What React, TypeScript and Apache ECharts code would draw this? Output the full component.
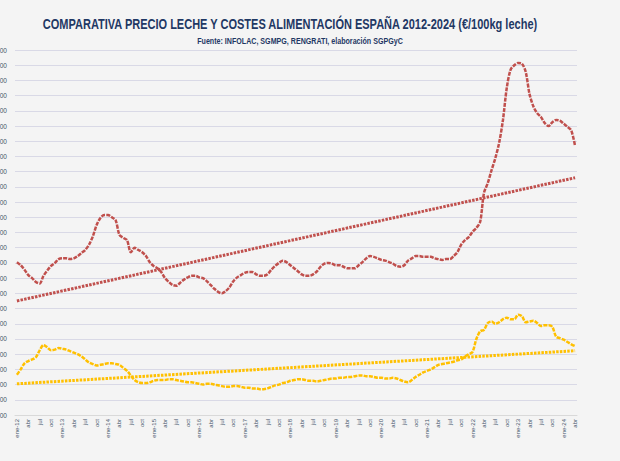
import React, { useEffect, useRef } from "react";
import * as echarts from "echarts";

const MONTHS = ["ene", "feb", "mar", "abr", "may", "jun", "jul", "ago", "sep", "oct", "nov", "dic"];
const YEARS = [12, 13, 14, 15, 16, 17, 18, 19, 20, 21, 22, 23, 24];
const categories: string[] = [];
YEARS.forEach((y) => MONTHS.forEach((m) => categories.push(`${m}-${y}`)));
categories.length = 148; // ene-12 .. abr-24

const precioLeche = [
  32.1, 31.7, 31.1, 30.4, 30.0, 29.5, 29.3, 30.3, 31.0, 31.6, 32.0, 32.5,
  32.6, 32.6, 32.5, 32.6, 32.9, 33.3, 33.7, 34.4, 35.5, 37.0, 37.9, 38.3,
  38.3, 38.0, 37.6, 35.7, 35.3, 35.0, 33.4, 34.0, 33.7, 33.4, 32.9, 32.1,
  31.6, 31.3, 30.8, 30.0, 29.5, 29.1, 29.0, 29.4, 29.8, 30.1, 30.3, 30.3,
  30.1, 30.0, 29.6, 29.1, 28.6, 28.2, 28.0, 28.3, 28.8, 29.6, 30.1, 30.4,
  30.7, 30.8, 30.8, 30.5, 30.3, 30.3, 30.5, 31.1, 31.6, 32.0, 32.3, 32.1,
  31.7, 31.3, 30.9, 30.5, 30.3, 30.3, 30.5, 30.9, 31.5, 31.9, 32.0, 31.9,
  31.7, 31.7, 31.5, 31.3, 31.3, 31.3, 31.7, 32.1, 32.6, 32.9, 32.8, 32.6,
  32.4, 32.3, 32.1, 31.9, 31.6, 31.5, 31.7, 32.3, 32.6, 32.9, 32.9, 32.8,
  32.8, 32.8, 32.6, 32.5, 32.4, 32.5, 32.5, 32.9, 33.4, 34.4, 35.0, 35.4,
  36.1, 36.6, 37.4, 41.2, 42.5, 44.2, 45.8, 47.8, 50.8, 55.0, 57.4, 58.0,
  58.3, 58.2, 57.1, 54.2, 52.6, 51.7, 51.2, 50.4, 50.0, 50.5, 50.8, 50.7,
  50.3, 49.9, 49.4, 47.38,
];

const costeAlimentacion = [
  17.3, 18.0, 18.8, 19.1, 19.3, 19.6, 20.5, 21.2, 20.9, 20.5, 20.6, 20.8,
  20.7, 20.6, 20.4, 20.2, 20.0, 19.7, 19.3, 18.9, 18.7, 18.5, 18.6, 18.7,
  18.8, 18.8, 18.7, 18.6, 18.2, 17.8, 17.2, 16.6, 16.3, 16.2, 16.2, 16.3,
  16.5, 16.6, 16.6, 16.6, 16.7, 16.7, 16.6, 16.5, 16.4, 16.3, 16.3, 16.2,
  16.1, 16.0, 16.1, 16.1, 16.0, 15.9, 15.8, 15.7, 15.7, 15.8, 15.8, 15.7,
  15.6, 15.6, 15.5, 15.5, 15.4, 15.4, 15.5, 15.7, 15.9, 16.0, 16.2, 16.3,
  16.5, 16.6, 16.7, 16.7, 16.6, 16.5, 16.5, 16.4, 16.5, 16.6, 16.7, 16.8,
  16.8, 16.9, 16.9, 17.0, 17.0, 17.1, 17.2, 17.2, 17.1, 17.1, 17.0, 16.9,
  16.9, 16.8, 16.8, 16.9, 16.8, 16.6, 16.4, 16.3, 16.6, 17.0, 17.3, 17.6,
  17.8, 18.0, 18.3, 18.6, 18.7, 18.8, 18.9, 19.0, 19.2, 19.3, 19.7, 20.0,
  20.3, 22.0, 23.0, 23.2, 24.1, 24.3, 24.0, 24.2, 24.6, 24.8, 24.6, 24.6,
  25.2, 25.0, 24.2, 24.3, 24.4, 24.1, 23.7, 23.8, 23.8, 23.6, 22.3, 22.1,
  21.9, 21.6, 21.3, 21.05,
];

const tendenciaLeche = [27.0, 43.2];
const tendenciaAlimentacion = [16.1, 20.45];

const TITLE = "COMPARATIVA PRECIO LECHE Y COSTES ALIMENTACIÓN ESPAÑA 2012-2024 (€/100kg leche)";
const SUBTITLE = "Fuente: INFOLAC, SGMPG, RENGRATI, elaboración SGPGyC";

const RED = "#C0504D";
const YELLOW = "#FFC000";
const NAVY = "#1F3864";
const FONT = "Liberation Sans, Arial, sans-serif";
const fmt = (v: number) => v.toFixed(2).replace(".", ",");

function lastLabeled(values: number[], bg: string, dist: number) {
  return values.map((v, i) =>
    i === values.length - 1
      ? {
          value: v,
          label: {
            show: true,
            position: "bottom",
            distance: dist,
            formatter: () => fmt(v),
            backgroundColor: bg,
            color: "#ffffff",
            fontWeight: "bold",
            fontSize: 9,
            fontFamily: FONT,
            padding: [3, 2, 2, 2],
          },
        }
      : v
  );
}

export default function App() {
  const ref = useRef<HTMLDivElement>(null);
  useEffect(() => {
    if (!ref.current) return;
    const chart = echarts.init(ref.current, undefined, { renderer: "svg" });
    const last = categories.length - 1;
    chart.setOption({
      animation: false,
      backgroundColor: "#f4f4f4",
      graphic: [
        {
          type: "text",
          x: 290,
          y: 25,
          scaleX: 0.787,
          style: {
            text: TITLE,
            font: `bold 14px ${FONT}`,
            fill: NAVY,
            align: "center",
            verticalAlign: "middle",
          },
        },
        {
          type: "text",
          x: 300,
          y: 41,
          scaleX: 0.75,
          style: {
            text: SUBTITLE,
            font: `bold 9.5px ${FONT}`,
            fill: NAVY,
            align: "center",
            verticalAlign: "middle",
          },
        },
      ],
      grid: {
        left: 15,
        right: 43,
        top: 50,
        bottom: 46,
        containLabel: false,
        outerBoundsMode: "none",
      },
      xAxis: {
        type: "category",
        data: categories,
        boundaryGap: true,
        axisLine: { lineStyle: { color: "#D9D9D9" } },
        axisTick: { show: false },
        axisLabel: {
          interval: 2,
          rotate: 90,
          margin: 4,
          fontSize: 6,
          color: "#44546A",
          fontFamily: FONT,
          formatter: (v: string) => (v.startsWith("ene") ? v : v.slice(0, 3)),
        },
      },
      yAxis: {
        type: "value",
        min: 12,
        max: 60,
        interval: 2,
        axisLine: { show: false },
        axisTick: { show: false },
        splitLine: { lineStyle: { color: "#D9D9E6", width: 1 } },
        axisLabel: {
          margin: 8,
          fontSize: 6.5,
          color: "#44546A",
          fontFamily: FONT,
          formatter: (v: number) => fmt(v),
        },
      },
      series: [
        {
          name: "Precio leche",
          type: "line",
          data: lastLabeled(precioLeche, RED, 4),
          smooth: 0.3,
          symbol: "none",
          lineStyle: { color: RED, width: 2.5, type: [4, 1.2] },
          z: 3,
        },
        {
          name: "Coste alimentación",
          type: "line",
          data: lastLabeled(costeAlimentacion, YELLOW, 17),
          smooth: 0.3,
          symbol: "none",
          lineStyle: { color: YELLOW, width: 2.5, type: [4, 1.2] },
          z: 3,
        },
        {
          name: "Tendencia leche",
          type: "line",
          data: [
            [categories[0], tendenciaLeche[0]],
            [categories[last], tendenciaLeche[1]],
          ],
          symbol: "none",
          lineStyle: { color: RED, width: 3, type: [2.5, 1.2] },
          z: 2,
        },
        {
          name: "Tendencia alimentación",
          type: "line",
          data: [
            [categories[0], tendenciaAlimentacion[0]],
            [categories[last], tendenciaAlimentacion[1]],
          ],
          symbol: "none",
          lineStyle: { color: YELLOW, width: 3, type: [2.5, 1.2] },
          z: 2,
        },
      ],
    });
    return () => chart.dispose();
  }, []);
  return (
    <div
      ref={ref}
      style={{ position: "fixed", left: 0, top: 0, width: 620, height: 461 }}
    />
  );
}
